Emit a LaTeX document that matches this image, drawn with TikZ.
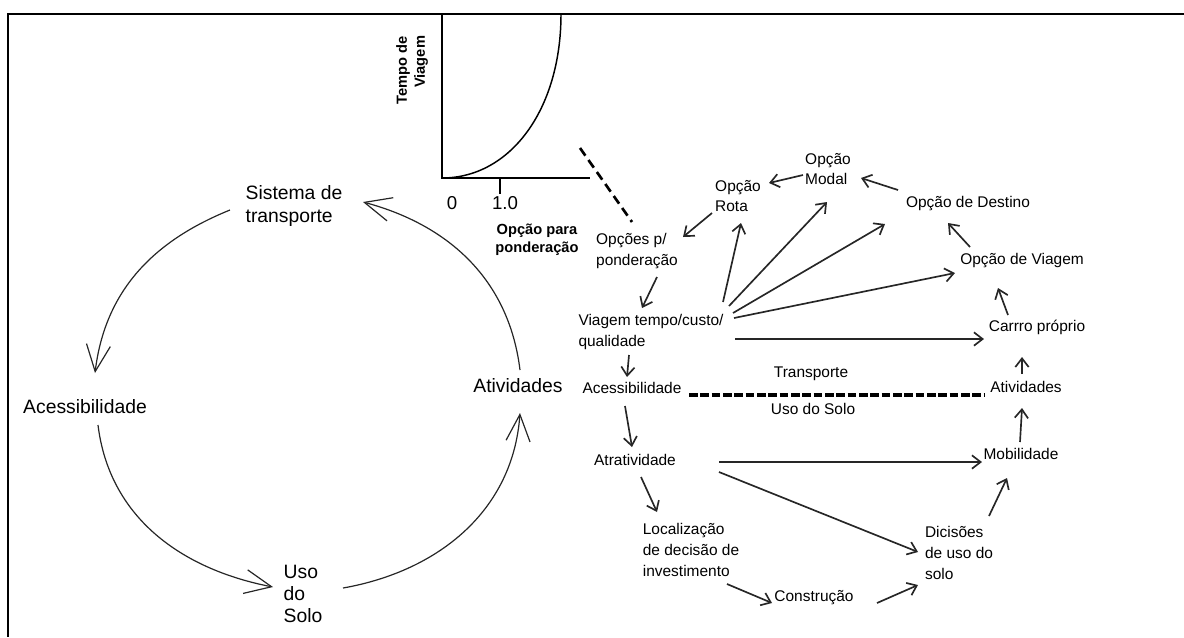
\documentclass[tikz,border=0pt]{standalone}
\usepackage{fontspec}
\setmainfont{Liberation Sans}
\usetikzlibrary{arrows.meta}
\begin{document}
\begin{tikzpicture}[x=0.75pt,y=-0.75pt,
  bigtxt/.style={font=\fontsize{14.5}{16.7}\selectfont, inner sep=0pt, align=left},
  smalltxt/.style={font=\fontsize{11.6}{15.5}\selectfont, inner sep=0pt, align=left},
  axislbl/.style={font=\bfseries\fontsize{11}{13.5}\selectfont, inner sep=0pt, align=center},
  ticklbl/.style={font=\fontsize{14}{16}\selectfont, inner sep=0pt},
  cyclearrow/.style={draw=black!85, line width=0.9pt, -{Straight Barb[length=20pt,width=18pt]}},
  flowarrow/.style={draw=black!85, line width=1.25pt, -{Straight Barb[length=6.5pt,width=10pt]}},
  ]
\useasboundingbox (0,0) rectangle (1184,637);

% frame
\draw[line width=1.9pt] (7,14) -- (1184,14);
\draw[line width=1.5pt] (8,14) -- (8,637);

% travel time curve
\coordinate (O) at (442,178);
\draw[line width=1.1pt] (442,14) -- (O) -- (590,178);
\draw[line width=1.1pt] (500,178) -- (500,194);
\draw[line width=1.1pt] (O) .. controls (510,178) and (561,110) .. (561,14);
\node[ticklbl] (zero) at (452,203) {0};
\node[ticklbl] (one) at (505,203) {1.0};
\node[axislbl] (xlbl) at (537,240) {Opção para\\ponderação};
\node[axislbl, rotate=90, align=right] (ylbl) at (412,70) {Tempo de\\Viagem};

% left cycle
\node[bigtxt] (sis) at (294,206) {Sistema de\\transporte};
\node[bigtxt] (acc1) at (85,407) {Acessibilidade};
\node[bigtxt] (uso) at (303,594) {Uso\\do\\Solo};
\node[bigtxt] (ati1) at (518,386) {Atividades};

\draw[cyclearrow] ([shift={(-64,4)}]sis.center) to[out=202,in=83] ([shift={(10,-34)}]acc1.center);
\draw[cyclearrow] ([shift={(13,18)}]acc1.center) to[out=-83,in=169] ([shift={(-30,-7)}]uso.center);
\draw[cyclearrow] ([shift={(40,-6)}]uso.center) to[out=10,in=-94] ([shift={(2,27)}]ati1.center);
\draw[cyclearrow] ([shift={(2,-16)}]ati1.center) to[out=97,in=-15] ([shift={(69,-4)}]sis.center);

% right diagram
\node[smalltxt] (modal) at (828,169) {Opção\\Modal};
\node[smalltxt] (rota) at (738,196) {Opção\\Rota};
\node[smalltxt] (opp) at (637,251) {Opções p/\\ponderação};
\node[smalltxt] (dest) at (968,204) {Opção de Destino};
\node[smalltxt] (viag) at (1022,261) {Opção de Viagem};
\node[smalltxt] (carro) at (1037,327) {Carrro próprio};
\node[smalltxt] (vt) at (651,332) {Viagem tempo/custo/\\qualidade};
\node[smalltxt] (acc2) at (632,388) {Acessibilidade};
\node[smalltxt] (transp) at (811,374) {Transporte};
\node[smalltxt] (usosolo) at (813,409) {Uso do Solo};
\node[smalltxt] (ati2) at (1026,387) {Atividades};
\node[smalltxt] (atr) at (635,460) {Atratividade};
\node[smalltxt] (mob) at (1021,454) {Mobilidade};
\node[smalltxt] (loc) at (691,550) {Localização\\de decisão de\\investimento};
\node[smalltxt] (dec) at (959,553) {Dicisões\\de uso do\\solo};
\node[smalltxt] (cons) at (814,598) {Construção};

% link from the curve to the weighting options
\coordinate (gtail) at (580,148);
\draw[line width=2pt, dash pattern=on 7pt off 4pt] (gtail) -- ([shift={(-5,-29)}]opp.center);

% transport / land use divider
\draw[line width=2.4pt, dash pattern=on 6.4pt off 2.1pt] ([shift={(57,7)}]acc2.center) -- ([shift={(-42,8)}]ati2.center);

\draw[flowarrow] ([shift={(-25,6)}]modal.center) -- ([shift={(31,-13)}]rota.center);
\draw[flowarrow] ([shift={(-70,-14)}]dest.center) -- ([shift={(33,9)}]modal.center);
\draw[flowarrow] ([shift={(-52,-14)}]viag.center) -- ([shift={(-20,19)}]dest.center);
\draw[flowarrow] ([shift={(-29,-12)}]carro.center) -- ([shift={(-24,27)}]viag.center);
\draw[flowarrow] ([shift={(-26,17)}]rota.center) -- ([shift={(46,-14)}]opp.center);
\draw[flowarrow] ([shift={(20,26)}]opp.center) -- ([shift={(-9,-24)}]vt.center);
\draw[flowarrow] ([shift={(72,-30)}]vt.center) -- ([shift={(3,27)}]rota.center);
\draw[flowarrow] ([shift={(78,-26)}]vt.center) -- ([shift={(-1,33)}]modal.center);
\draw[flowarrow] ([shift={(82,-19)}]vt.center) -- ([shift={(-83,20)}]dest.center);
\draw[flowarrow] ([shift={(83,-14)}]vt.center) -- ([shift={(-67,12)}]viag.center);
\draw[flowarrow] ([shift={(84,7)}]vt.center) -- ([shift={(-53,12)}]carro.center);
\draw[flowarrow] ([shift={(-22,23)}]vt.center) -- ([shift={(-5,-11)}]acc2.center);
\draw[flowarrow] ([shift={(-7,18)}]acc2.center) -- ([shift={(-3,-13)}]atr.center);
\draw[flowarrow] ([shift={(6,17)}]atr.center) -- ([shift={(-34,-38)}]loc.center);
\draw[flowarrow] ([shift={(84,2)}]atr.center) -- ([shift={(-39,8)}]mob.center);
\draw[flowarrow] ([shift={(84,12)}]atr.center) -- ([shift={(-41,-1)}]dec.center);
\draw[flowarrow] ([shift={(36,34)}]loc.center) -- ([shift={(-42,5)}]cons.center);
\draw[flowarrow] ([shift={(63,5)}]cons.center) -- ([shift={(-41,32)}]dec.center);
\draw[flowarrow] ([shift={(30,-37)}]dec.center) -- ([shift={(-14,24)}]mob.center);
\draw[flowarrow] ([shift={(-1,-12)}]mob.center) -- ([shift={(-4,21)}]ati2.center);
\draw[flowarrow] ([shift={(-4,-13)}]ati2.center) -- ([shift={(-15,30)}]carro.center);
\end{tikzpicture}
\end{document}
